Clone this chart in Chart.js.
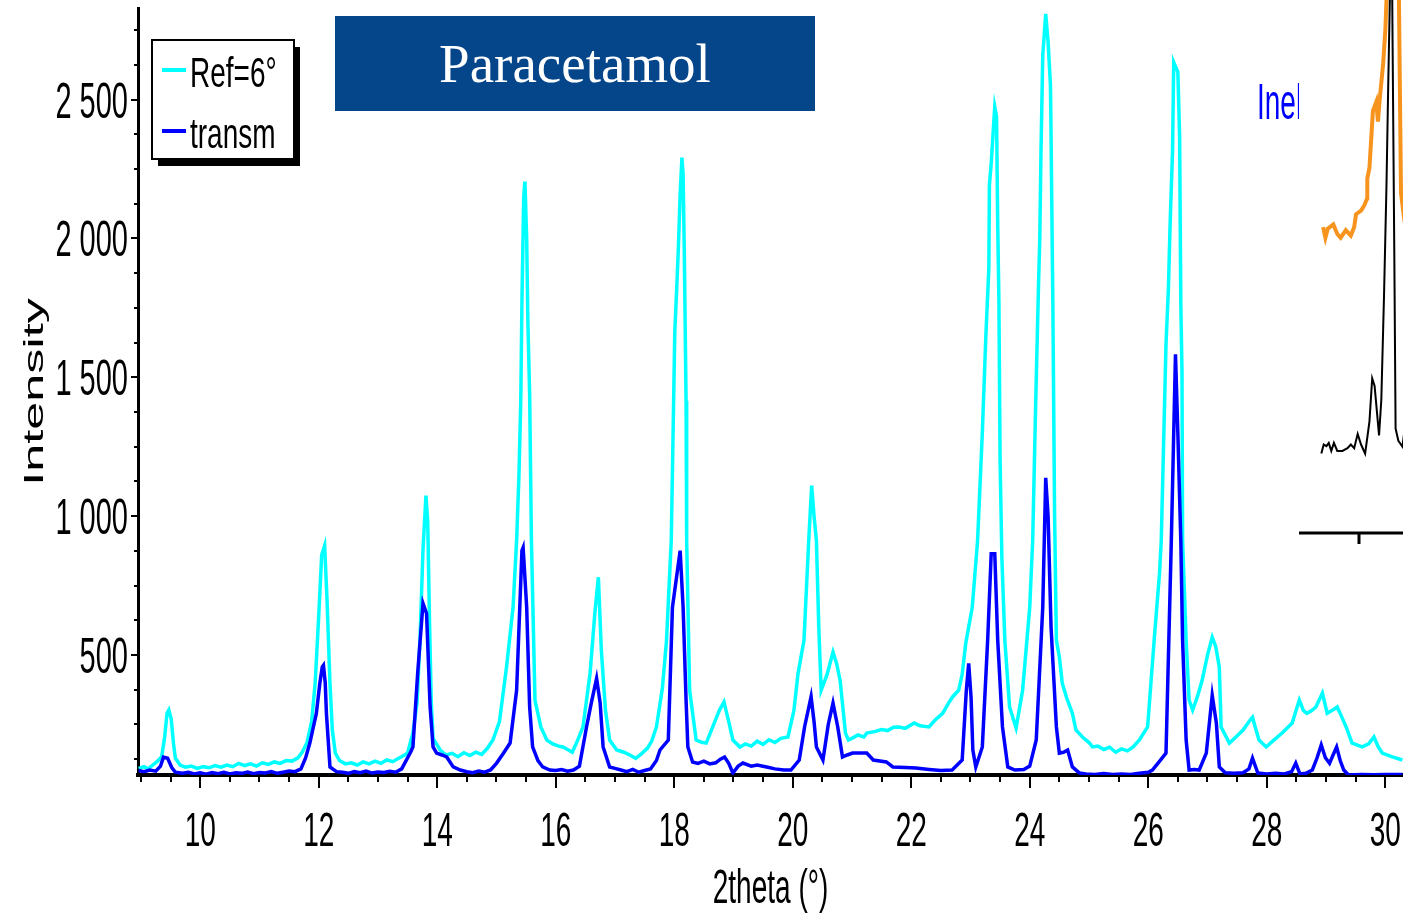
<!DOCTYPE html>
<html>
<head>
<meta charset="utf-8">
<title>Paracetamol</title>
<script src="https://cdn.jsdelivr.net/npm/chart.js@4.4.1/dist/chart.umd.min.js"></script>
<style>
  html, body { margin: 0; padding: 0; background: #fff; width: 1403px; height: 913px; overflow: hidden; }
  #wrap { position: relative; width: 1403px; height: 913px; overflow: hidden; }
  #main { position: absolute; left: 0; top: 0; }
  #insetBox { position: absolute; left: 1299px; top: 0; width: 240px; height: 560px; }
  #title {
    position: absolute; left: 335px; top: 16px; width: 480px; height: 95px;
    background: #05458a; color: #fff; text-align: center;
    font-family: "Liberation Serif", "DejaVu Serif", serif; font-size: 55px; line-height: 95px;
  }
  #inelClip { position: absolute; left: 1250px; top: 70px; width: 49px; height: 70px; overflow: hidden; }
  #inel {
    position: absolute; left: 7px; top: 8px; color: #0000ff;
    font-family: "Liberation Sans", Arial, sans-serif; font-size: 28px; line-height: 28px;
    transform: scaleY(1.8); transform-origin: 0 0; white-space: nowrap;
  }
</style>
</head>
<body>
<div id="wrap">
  <canvas id="main" width="1403" height="913"></canvas>
  <div id="title">Paracetamol</div>
  <div id="inelClip"><span id="inel">Inel</span></div>
  <div id="insetBox"><canvas id="inset" width="240" height="560"></canvas></div>
</div>
<script>
// ---- Powder pattern, reflection geometry (Ref=6°) ----
const refTheta = [
  8.96, 9.05, 9.12, 9.20, 9.28, 9.35, 9.40, 9.44, 9.47, 9.51, 9.55, 9.58, 9.66, 9.75, 9.85, 9.95,
  10.05, 10.15, 10.25, 10.35, 10.45, 10.55, 10.65, 10.75, 10.85, 10.95, 11.05, 11.15, 11.25, 11.35,
  11.45, 11.55, 11.65, 11.72, 11.80, 11.88, 11.94, 12.00, 12.05, 12.10, 12.14, 12.19, 12.23, 12.28,
  12.35, 12.45, 12.55, 12.65, 12.75, 12.85, 12.95, 13.05, 13.15, 13.25, 13.35, 13.45, 13.50, 13.59,
  13.66, 13.71, 13.76, 13.81, 13.84, 13.87, 13.90, 13.93, 14.05, 14.15, 14.25, 14.35, 14.45, 14.55,
  14.65, 14.75, 14.85, 14.94, 15.05, 15.17, 15.28, 15.34, 15.38, 15.41, 15.43, 15.46, 15.48, 15.51,
  15.53, 15.56, 15.59, 15.65, 15.75, 15.85, 15.95, 16.05, 16.12, 16.20, 16.28, 16.35, 16.46, 16.58,
  16.66, 16.72, 16.77, 16.84, 16.91, 17.03, 17.15, 17.25, 17.35, 17.45, 17.55, 17.62, 17.70, 17.80,
  17.87, 17.95, 17.99, 18.01, 18.04, 18.07, 18.10, 18.13, 18.15, 18.17, 18.20, 18.21, 18.26, 18.37,
  18.46, 18.54, 18.65, 18.76, 18.84, 18.92, 18.99, 19.11, 19.20, 19.30, 19.40, 19.50, 19.60, 19.70,
  19.80, 19.92, 20.02, 20.09, 20.19, 20.27, 20.32, 20.36, 20.40, 20.44, 20.48, 20.58, 20.68, 20.74,
  20.80, 20.89, 20.94, 21.00, 21.10, 21.20, 21.25, 21.40, 21.50, 21.60, 21.70, 21.80, 21.90, 22.05,
  22.15, 22.30, 22.40, 22.53, 22.63, 22.70, 22.80, 22.86, 22.92, 23.03, 23.12, 23.20, 23.26, 23.31,
  23.32, 23.35, 23.38, 23.41, 23.44, 23.46, 23.48, 23.50, 23.53, 23.58, 23.66, 23.77, 23.88, 24.00,
  24.05, 24.10, 24.15, 24.17, 24.19, 24.22, 24.27, 24.31, 24.35, 24.36, 24.39, 24.42, 24.45, 24.50,
  24.55, 24.62, 24.72, 24.78, 24.89, 25.01, 25.06, 25.15, 25.25, 25.35, 25.45, 25.55, 25.65, 25.75,
  25.85, 25.99, 26.10, 26.19, 26.22, 26.30, 26.34, 26.37, 26.41, 26.43, 26.46, 26.50, 26.53, 26.55,
  26.57, 26.58, 26.64, 26.69, 26.75, 26.83, 26.91, 27.00, 27.08, 27.14, 27.20, 27.23, 27.37, 27.48,
  27.60, 27.70, 27.76, 27.82, 27.87, 27.99, 28.10, 28.26, 28.43, 28.55, 28.62, 28.68, 28.76, 28.83,
  28.94, 29.02, 29.10, 29.19, 29.26, 29.34, 29.44, 29.61, 29.72, 29.81, 29.88, 29.95, 30.12, 30.29
];
const refCounts = [
  92, 98, 90, 104, 118, 134, 205, 290, 302, 270, 180, 129, 104, 96, 100, 92,
  98, 94, 102, 96, 104, 98, 110, 102, 108, 100, 112, 106, 115, 110,
  120, 118, 130, 150, 183, 260, 398, 640, 860, 894, 700, 398, 230, 147,
  120, 108, 112, 104, 115, 108, 118, 110, 122, 116, 128, 140, 147, 219,
  330, 560, 880, 1074, 980, 620, 330, 200, 158, 140, 146, 134, 148, 138,
  150, 142, 165, 194, 260, 457, 672, 912, 1150, 1415, 1774, 2150, 2205, 2000,
  1702, 1440, 912, 337, 240, 194, 180, 172, 169, 160, 150, 183, 241, 434,
  650, 780, 517, 300, 194, 158, 150, 140, 128, 145, 165, 190, 241, 380,
  553, 912, 1415, 1666, 1810, 1965, 2158, 2291, 2230, 1953, 1415, 912, 373, 194,
  186, 183, 241, 300, 331, 260, 194, 169, 180, 172, 190, 178, 195, 185,
  200, 205, 300, 434, 553, 912, 1110, 1000, 912, 600, 373, 430, 511, 470,
  409, 219, 194, 200, 212, 205, 219, 225, 232, 228, 240, 241, 236, 255,
  245, 241, 265, 290, 327, 350, 373, 430, 542, 672, 912, 1300, 1650, 1892,
  2193, 2270, 2373, 2474, 2440, 2050, 1774, 1200, 850, 553, 313, 237, 373, 672,
  912, 1400, 1846, 2000, 2312, 2659, 2809, 2707, 2552, 2373, 1774, 1000, 553, 493,
  398, 348, 290, 230, 205, 183, 169, 172, 160, 168, 150, 162, 155, 170,
  194, 241, 553, 793, 912, 1619, 1816, 2055, 2312, 2635, 2620, 2600, 2366, 1763,
  1522, 912, 553, 338, 302, 350, 409, 500, 564, 530, 456, 241, 183, 205,
  230, 260, 276, 230, 194, 169, 190, 219, 255, 338, 300, 290, 300, 313,
  363, 290, 300, 313, 280, 241, 183, 169, 180, 205, 170, 147, 133, 122
];

// ---- Powder pattern, transmission geometry ----
const transmTheta = [
  8.96, 9.05, 9.15, 9.25, 9.33, 9.38, 9.45, 9.52, 9.58, 9.70, 9.80, 9.90, 10.00, 10.10, 10.20, 10.30,
  10.40, 10.50, 10.60, 10.70, 10.80, 10.90, 11.00, 11.10, 11.20, 11.30, 11.40, 11.50, 11.60, 11.70,
  11.78, 11.85, 11.96, 12.02, 12.06, 12.08, 12.11, 12.13, 12.19, 12.30, 12.40, 12.50, 12.60, 12.70,
  12.80, 12.90, 13.00, 13.10, 13.20, 13.30, 13.40, 13.45, 13.55, 13.59, 13.67, 13.76, 13.82, 13.88,
  13.93, 13.99, 14.08, 14.16, 14.27, 14.39, 14.50, 14.60, 14.70, 14.80, 14.90, 15.00, 15.12, 15.23,
  15.34, 15.43, 15.45, 15.51, 15.56, 15.61, 15.70, 15.78, 15.90, 16.00, 16.10, 16.20, 16.30, 16.40,
  16.52, 16.60, 16.69, 16.75, 16.80, 16.91, 17.00, 17.10, 17.20, 17.30, 17.40, 17.50, 17.60, 17.70,
  17.76, 17.90, 17.97, 18.10, 18.15, 18.20, 18.23, 18.31, 18.40, 18.50, 18.60, 18.70, 18.78, 18.85,
  18.92, 18.99, 19.08, 19.16, 19.30, 19.40, 19.56, 19.70, 19.85, 19.97, 20.11, 20.20, 20.31, 20.36,
  20.40, 20.51, 20.60, 20.68, 20.76, 20.84, 20.92, 21.01, 21.25, 21.36, 21.58, 21.69, 21.90, 22.08,
  22.30, 22.50, 22.69, 22.86, 22.93, 22.97, 23.01, 23.04, 23.09, 23.20, 23.29, 23.35, 23.41, 23.46,
  23.54, 23.63, 23.75, 23.90, 24.00, 24.11, 24.22, 24.27, 24.31, 24.36, 24.45, 24.50, 24.57, 24.64,
  24.72, 24.84, 24.95, 25.10, 25.25, 25.40, 25.55, 25.70, 25.85, 26.00, 26.07, 26.20, 26.30, 26.39,
  26.46, 26.50, 26.55, 26.58, 26.64, 26.69, 26.78, 26.86, 26.98, 27.08, 27.15, 27.20, 27.30, 27.45,
  27.60, 27.70, 27.76, 27.85, 28.00, 28.15, 28.30, 28.42, 28.49, 28.56, 28.66, 28.77, 28.85, 28.92,
  28.99, 29.06, 29.12, 29.18, 29.24, 29.30, 29.38, 29.60, 29.80, 30.00, 30.29
];
const transmCounts = [
  84, 80, 86, 82, 100, 132, 128, 95, 78, 74, 78, 72, 76, 71, 77, 73,
  78, 72, 76, 74, 79, 73, 77, 75, 80, 74, 78, 82, 80, 90,
  130, 183, 290, 400, 457, 463, 400, 290, 97, 80, 78, 74, 80, 76,
  82, 75, 79, 77, 81, 78, 90, 110, 150, 169, 434, 686, 650, 313,
  169, 147, 140, 133, 97, 86, 80, 76, 82, 78, 86, 110, 147, 183,
  373, 876, 887, 672, 313, 169, 120, 97, 86, 84, 88, 82, 86, 100,
  241, 327, 416, 327, 169, 97, 92, 86, 80, 88, 78, 84, 90, 120,
  158, 194, 672, 876, 672, 338, 169, 115, 110, 118, 108, 112, 125, 133,
  110, 75, 100, 111, 100, 104, 97, 90, 86, 86, 122, 241, 350, 260,
  169, 122, 250, 327, 241, 133, 140, 147, 147, 122, 115, 97, 95, 93,
  88, 84, 86, 122, 373, 470, 348, 158, 97, 169, 553, 865, 865, 553,
  241, 97, 86, 88, 100, 194, 672, 1138, 1000, 600, 241, 147, 150, 158,
  97, 75, 72, 70, 73, 70, 72, 70, 74, 78, 86, 120, 147, 912,
  1583, 1300, 912, 553, 194, 86, 88, 86, 147, 355, 255, 97, 76, 74,
  76, 90, 129, 75, 72, 74, 72, 80, 111, 72, 74, 86, 130, 176,
  130, 110, 140, 169, 120, 86, 68, 70, 69, 70, 70
];

// ---- Axis ticks ----
const xTickValues = [10, 12, 14, 16, 18, 20, 22, 24, 26, 28, 30];
const yTickValues = [500, 1000, 1500, 2000, 2500];

// ---- Inset: Inel diffractometer, around the strongest low-angle line ----
const insetOrangeTheta = [
  11.701, 11.720, 11.740, 11.786, 11.819, 11.847, 11.890, 11.932, 11.960, 11.975, 12.017, 12.045,
  12.068, 12.069, 12.087, 12.116, 12.144, 12.158, 12.172, 12.201, 12.220, 12.229, 12.280, 12.333,
  12.350, 12.379, 12.420, 12.480
];
const insetOrangeCounts = [
  574, 554, 571, 579, 561, 554, 568, 558, 574, 598, 605, 615,
  628, 665, 685, 792, 809, 772, 812, 880, 946, 1000, 1300, 1000,
  638, 585, 560, 550
];
const insetBlackTheta = [
  11.686, 11.706, 11.729, 11.748, 11.769, 11.791, 11.819, 11.862, 11.904, 11.932, 11.960, 11.989,
  12.017, 12.051, 12.087, 12.110, 12.130, 12.167, 12.186, 12.209, 12.229, 12.243, 12.257, 12.267,
  12.277, 12.294, 12.305, 12.328, 12.362, 12.381, 12.420, 12.480
];
const insetBlackCounts = [
  149, 166, 163, 169, 154, 169, 154, 154, 159, 166, 159, 186,
  166, 149, 209, 290, 276, 183, 250, 450, 652, 833, 1000, 1500,
  1000, 531, 196, 173, 162, 196, 170, 160
];

const toPoints = (xs, ys) => xs.map((v, i) => ({ x: v, y: ys[i] }));
const FONT = '"Liberation Sans", Arial, sans-serif';
const spaced = v => String(v).replace(/\B(?=(\d{3})+(?!\d))/g, ' ');

// Text drawn with a vertical stretch, as in the original instrument output.
function tallText(ctx, text, px, py, stretch, align, size) {
  ctx.save();
  ctx.translate(px, py);
  ctx.scale(1, stretch);
  ctx.font = size + 'px ' + FONT;
  ctx.textAlign = align;
  ctx.textBaseline = 'alphabetic';
  ctx.fillText(text, 0, 0);
  ctx.restore();
}

// Tick marks, tick labels, axis titles and the boxed legend.
const axisDecor = {
  id: 'axisDecor',
  afterDraw(chart) {
    const { ctx, chartArea: a, scales: { x, y } } = chart;
    ctx.save();
    ctx.strokeStyle = '#000';
    ctx.fillStyle = '#000';

    // x ticks: major every 2°, minor every 0.5°
    ctx.lineWidth = 2;
    for (let k = 18; k <= 60; k++) {
      const v = k / 2;
      const px = Math.round(x.getPixelForValue(v));
      const major = xTickValues.includes(v);
      ctx.beginPath();
      ctx.moveTo(px, a.bottom + 2);
      ctx.lineTo(px, a.bottom + (major ? 13 : 7));
      ctx.stroke();
    }
    xTickValues.forEach(v => {
      tallText(ctx, String(v), x.getPixelForValue(v), 846, 1.75, 'center', 28);
    });

    // y ticks: major every 500, minor every 125
    for (let v = 125; v < y.max; v += 125) {
      if (v < y.min) continue;
      const py = Math.round(y.getPixelForValue(v));
      const major = yTickValues.includes(v);
      ctx.beginPath();
      ctx.moveTo(a.left - 1, py);
      ctx.lineTo(a.left - (major ? 7 : 4), py);
      ctx.stroke();
    }
    yTickValues.forEach(v => {
      tallText(ctx, spaced(v), 128, y.getPixelForValue(v) + 18, 1.73, 'right', 29);
    });

    // axis titles
    tallText(ctx, '2theta (°)', (a.left + a.right) / 2, 903, 1.75, 'center', 28);
    ctx.save();
    ctx.translate(43, 392);
    ctx.rotate(-Math.PI / 2);
    ctx.scale(1.8, 1);
    ctx.font = '28px ' + FONT;
    ctx.textAlign = 'center';
    ctx.textBaseline = 'alphabetic';
    ctx.fillText('Intensity', 0, 0);
    ctx.restore();

    // legend box with drop shadow
    const bx = 152, by = 40, bw = 142, bh = 119;
    ctx.fillStyle = '#000';
    ctx.fillRect(bx + 6, by + 7, bw, bh);
    ctx.fillStyle = '#fff';
    ctx.fillRect(bx, by, bw, bh);
    ctx.lineWidth = 2;
    ctx.strokeRect(bx, by, bw, bh);
    chart.data.datasets.forEach((ds, i) => {
      const ly = 70 + i * 61;
      ctx.strokeStyle = ds.borderColor;
      ctx.lineWidth = 4;
      ctx.beginPath();
      ctx.moveTo(162, ly);
      ctx.lineTo(186, ly);
      ctx.stroke();
      ctx.fillStyle = '#000';
      tallText(ctx, ds.label, 190, ly + 17, 1.55, 'left', 28);
    });
    ctx.restore();
  }
};

new Chart(document.getElementById('main'), {
  type: 'line',
  data: {
    datasets: [
      { label: 'Ref=6°', data: toPoints(refTheta, refCounts), borderColor: '#00ffff', borderWidth: 3.5, order: 1 },
      { label: 'transm', data: toPoints(transmTheta, transmCounts), borderColor: '#0000ff', borderWidth: 3.5, order: 0 }
    ]
  },
  options: {
    responsive: false,
    animation: false,
    devicePixelRatio: 1,
    layout: { padding: { top: 8, right: 0, left: 0, bottom: 0 } },
    elements: { point: { radius: 0 }, line: { tension: 0, borderJoinStyle: 'miter' } },
    plugins: { legend: { display: false }, tooltip: { enabled: false } },
    scales: {
      x: {
        type: 'linear', min: 8.95, max: 30.3,
        grid: { display: false },
        border: { display: true, color: '#000', width: 4 },
        ticks: { display: false },
        afterFit: s => { s.height = 138; }
      },
      y: {
        type: 'linear', min: 68, max: 2830,
        grid: { display: false },
        border: { display: true, color: '#000', width: 3 },
        ticks: { display: false, stepSize: 500, includeBounds: false },
        afterFit: s => { s.width = 138; }
      }
    }
  },
  plugins: [axisDecor]
});

// Inset axis line with its single tick
const insetAxis = {
  id: 'insetAxis',
  afterDraw(chart) {
    const { ctx, chartArea: a, scales: { x } } = chart;
    ctx.save();
    ctx.strokeStyle = '#000';
    ctx.lineWidth = 3;
    ctx.beginPath();
    ctx.moveTo(0, a.bottom);
    ctx.lineTo(a.right, a.bottom);
    ctx.stroke();
    const tx = Math.round(x.getPixelForValue(12.0));
    ctx.beginPath();
    ctx.moveTo(tx, a.bottom);
    ctx.lineTo(tx, a.bottom + 11);
    ctx.stroke();
    ctx.restore();
  }
};

new Chart(document.getElementById('inset'), {
  type: 'line',
  data: {
    datasets: [
      { label: 'Inel', data: toPoints(insetBlackTheta, insetBlackCounts), borderColor: '#000000', borderWidth: 2, order: 0 },
      { label: 'Inel ref', data: toPoints(insetOrangeTheta, insetOrangeCounts), borderColor: '#f7941d', borderWidth: 4, order: 1 }
    ]
  },
  options: {
    responsive: false,
    animation: false,
    devicePixelRatio: 1,
    layout: { padding: { top: 0, right: 0, left: 0, bottom: 27 } },
    elements: { point: { radius: 0 }, line: { tension: 0 } },
    plugins: { legend: { display: false }, tooltip: { enabled: false } },
    scales: {
      x: { type: 'linear', display: false, min: 11.5, max: 13.5 },
      y: { type: 'linear', display: false, min: 0, max: 1000 }
    }
  },
  plugins: [insetAxis]
});
</script>
</body>
</html>
